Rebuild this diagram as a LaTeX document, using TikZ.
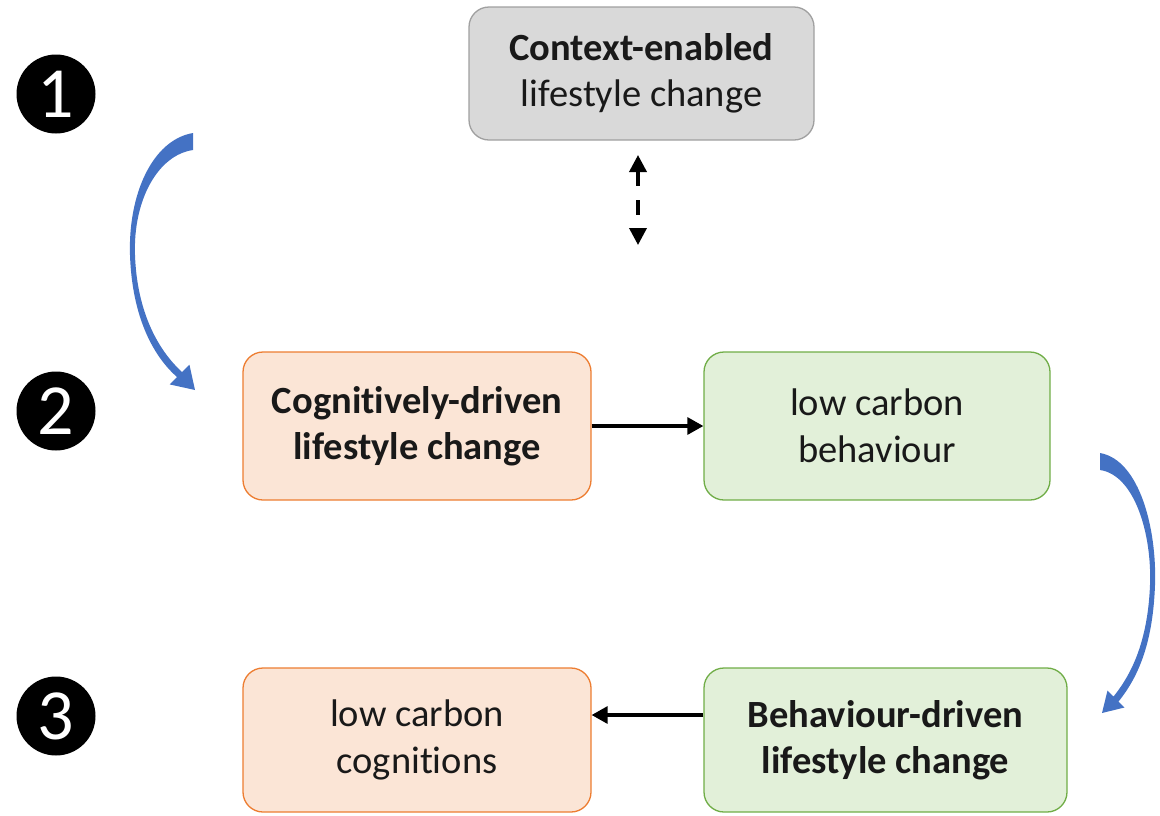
\documentclass[tikz,border=0pt]{standalone}
\usepackage{fontspec}
\setmainfont[Ligatures=NoCommon]{Carlito}
\usetikzlibrary{arrows.meta}
\definecolor{greyfill}{HTML}{D9D9D9}
\definecolor{greyline}{HTML}{A0A0A0}
\definecolor{orangefill}{HTML}{FBE5D6}
\definecolor{orangeline}{HTML}{ED7D31}
\definecolor{greenfill}{HTML}{E2F0D9}
\definecolor{greenline}{HTML}{70AD47}
\definecolor{curveblue}{HTML}{4472C4}
\tikzset{
  box/.style={rectangle, rounded corners=20pt, line width=1.3pt, inner sep=0pt,
    align=center, font=\fontsize{38.5}{46.5}\selectfont, text=black!90},
  greybox/.style={box, fill=greyfill, draw=greyline},
  orangebox/.style={box, fill=orangefill, draw=orangeline},
  greenbox/.style={box, fill=greenfill, draw=greenline},
  stepnum/.style={circle, fill=black, minimum size=79pt, inner sep=0pt,
    text=white, font=\fontsize{72}{72}\selectfont},
  flow/.style={line width=3.2pt, -{Triangle[length=16pt,width=17pt]}},
  stagecurve/.style={fill=curveblue, draw=none}
}
\begin{document}
\begin{tikzpicture}[x=1pt, y=-1pt]
\useasboundingbox (0,0) rectangle (1160,815);

% numbered stages
\node[stepnum] (n1) at (56,94) {1};
\node[stepnum] (n2) at (56,411) {2};
\node[stepnum] (n3) at (56,716) {3};

% boxes
\node[greybox, minimum width=345pt, minimum height=133pt] (ctx) at (641.5,73.5)
  {\textbf{Context-enabled}\\lifestyle change};
\node[orangebox, minimum width=348pt, minimum height=148pt] (cog) at (417,426)
  {\textbf{Cognitively-driven}\\\textbf{lifestyle change}};
\node[greenbox, minimum width=346pt, minimum height=148pt] (lcb) at (877,426)
  {low carbon\\behaviour};
\node[orangebox, minimum width=348pt, minimum height=144pt] (lcc) at (417,740)
  {low carbon\\cognitions};
\node[greenbox, minimum width=363pt, minimum height=144pt] (beh) at (885.5,740)
  {\textbf{Behaviour-driven}\\\textbf{lifestyle change}};

% connectors
\draw[flow] (cog.east) -- (lcb.west);
\draw[flow] ([yshift=25pt]beh.west) -- ([yshift=25pt]lcc.east);

\coordinate (dtop) at (638,155);
\coordinate (dbot) at (638,245);
\draw[line width=3.6pt, dash pattern=on 15pt off 14pt,
  {Triangle[length=17pt,width=17pt]}-{Triangle[length=17pt,width=17pt]}]
  (dtop) -- (dbot);

% curved stage arrows
\fill[stagecurve] (193,133) .. controls (152,140) and (128,195) .. (130,255)
  .. controls (132,315) and (152,355) .. (177,377)
  -- (169.6,384.4) -- (195,390) -- (189.4,364.6) -- (182,372)
  .. controls (158,350) and (137,312) .. (135,255)
  .. controls (133,200) and (158,155) .. (193,150) -- cycle;

\fill[stagecurve] (1100,453) .. controls (1140,460) and (1157,530) .. (1155,585)
  .. controls (1153,640) and (1140,675) .. (1118.5,701.5)
  -- (1124.5,707.5) -- (1102,713) -- (1107.5,690.5) -- (1113.5,696.5)
  .. controls (1135,670) and (1148,635) .. (1150,585)
  .. controls (1152,535) and (1135,475) .. (1100,470) -- cycle;
\end{tikzpicture}
\end{document}
